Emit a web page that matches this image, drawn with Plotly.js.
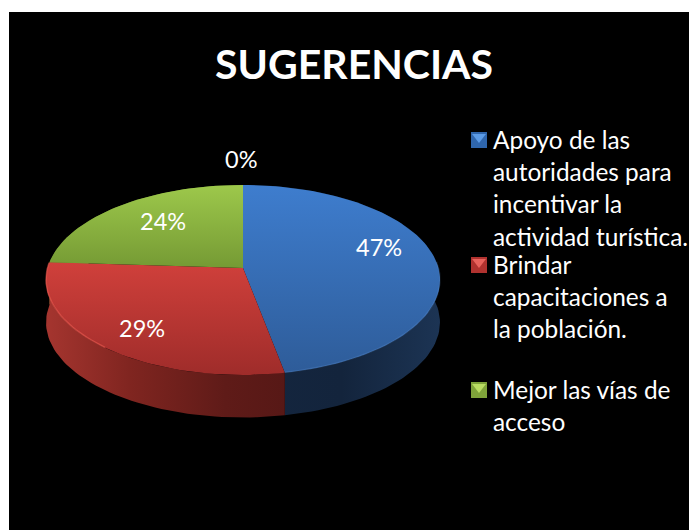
<!DOCTYPE html>
<html><head><meta charset="utf-8">
<script src="https://cdn.plot.ly/plotly-3.0.1.min.js"></script>
<style>html,body{margin:0;padding:0;background:#fff;overflow:hidden}</style>
</head><body><div id="chart" style="width:689px;height:530px"></div>
<script>
// Data
const chartTitle = 'SUGERENCIAS';
const categories = ['Apoyo de las autoridades para incentivar la actividad turística.', 'Brindar capacitaciones a la población.', 'Mejor las vías de acceso', 'Otros'];
const values = [47, 29, 24, 0];
const percentLabels = ['47%', '29%', '24%', '0%'];
const legendLines = [
  ['Apoyo de las', 'autoridades para', 'incentivar la', 'actividad turística.'],
  ['Brindar', 'capacitaciones a', 'la población.'],
  ['Mejor las vías de', 'acceso']
];

// Styles
const FONT = 'Lato, Carlito, Calibri, sans-serif';
const topGrad = [['#2e5c99', '#3e7dce'], ['#9f2c2a', '#d0403b'], ['#759a34', '#9dc84b']];
const sideGrad = [
  [[0, '#14263f'], [0.5, '#13243c'], [1, '#1c3454']],
  [[0, '#a5352f'], [0.35, '#802520'], [0.75, '#5f1b18'], [1, '#571816']],
  [[0, '#5f7d2a'], [1, '#5f7d2a']]
];
const swatch = [['#2f66ad', '#5b9be6'], ['#b0322f', '#e8625c'], ['#7fa33a', '#b9dc62']];

// Perspective pie projection
const CX = 243, CY = 268, RX = 195.4, RY = 93.5, K = 0.126, DEPTH = 42.5;
function project(pct, r, dy) {
  const t = pct / 100 * 2 * Math.PI, u = r * Math.sin(t), v = r * Math.cos(t), d = 1 + K * v;
  return [CX + RX * u / d, CY - RY * v / d + (dy || 0)];
}
function rim(a, b, dy) {
  const pts = [], n = Math.max(2, Math.ceil((b - a) * 2));
  for (let i = 0; i <= n; i++) pts.push(project(a + (b - a) * i / n, 1, dy));
  return pts;
}

const traces = [], annotations = [];
const starts = [];
values.reduce((acc, v, i) => { starts[i] = acc; return acc + v; }, 0);

// Sides first (the back ones end up hidden beneath the top faces)
[2, 0, 1].forEach(i => {
  const a = starts[i], b = a + values[i];
  const front = rim(a, b, 0), back = rim(a, b, DEPTH).reverse();
  const pts = front.concat(back);
  pts.push(front[0]);
  traces.push({
    type: 'scatter', mode: 'lines', x: pts.map(p => p[0]), y: pts.map(p => p[1]),
    line: {width: 0}, fill: 'toself', fillcolor: sideGrad[i][0][1],
    fillgradient: {type: 'horizontal', colorscale: sideGrad[i]},
    hoverinfo: 'skip', showlegend: false
  });
});
// Top faces
[0, 1, 2].forEach(i => {
  const a = starts[i], b = a + values[i];
  const pts = [[CX, CY]].concat(rim(a, b, 0));
  pts.push([CX, CY]);
  traces.push({
    type: 'scatter', mode: 'lines', x: pts.map(p => p[0]), y: pts.map(p => p[1]),
    line: {width: 0}, fill: 'toself', fillcolor: topGrad[i][1],
    fillgradient: {type: 'vertical', colorscale: [[0, topGrad[i][0]], [1, topGrad[i][1]]]},
    name: categories[i], hoverinfo: 'name+text', text: percentLabels[i], showlegend: false
  });
});
// Bevel highlights on the front rim
[[starts[1] + 14, starts[2] - 0.2, 'rgba(235,90,80,0.6)'], [starts[0] + 24, starts[1], 'rgba(110,160,225,0.2)']].forEach(b => {
  const pts = rim(b[0], b[1], 0);
  traces.push({type: 'scatter', mode: 'lines', x: pts.map(p => p[0]), y: pts.map(p => p[1] - 0.5),
    line: {width: 1.5, color: b[2]}, hoverinfo: 'skip', showlegend: false});
});

// Percent labels: anchored radially from each slice's mid-angle
const labelRadius = [0.72, 0.74, 0.72, 1.3];
const labelNudge = [[-3, -15], [2, 4], [10, -1], [-2, -5]];
values.forEach((v, i) => {
  const p = project(starts[i] + v / 2, labelRadius[i], 0);
  annotations.push({x: p[0], y: p[1], xref: 'x', yref: 'y', text: percentLabels[i], showarrow: false,
    xshift: labelNudge[i][0], yshift: -labelNudge[i][1], font: {family: FONT, size: 23.5, color: '#fff'}});
});

// Legend drawn as swatches and text lines
const legendX = 479, textX = 491, lineGap = 32.4;
const legendTop = [140, 265, 390];
legendLines.forEach((lines, i) => {
  traces.push({type: 'scatter', mode: 'markers', x: [legendX], y: [legendTop[i]], hoverinfo: 'skip', showlegend: false,
    marker: {symbol: 'square', size: 16, color: swatch[i][0], line: {width: 0}}});
  traces.push({type: 'scatter', mode: 'markers', x: [legendX], y: [legendTop[i] - 3], hoverinfo: 'skip', showlegend: false,
    marker: {symbol: 'triangle-down', size: 12, color: swatch[i][1], line: {width: 0}}});
  lines.forEach((t, j) => annotations.push({
    x: textX, y: legendTop[i] - 1 + j * lineGap, xref: 'x', yref: 'y', xanchor: 'left', yanchor: 'middle',
    text: t, showarrow: false, font: {family: FONT, size: 24.4, color: '#fff'}
  }));
});

// Title
annotations.push({x: 354, y: 63, xref: 'x', yref: 'y', text: '<b>' + chartTitle + '</b>', showarrow: false,
  font: {family: FONT, size: 41, color: '#fff'}});

const hidden = {visible: false, fixedrange: true, showgrid: false, zeroline: false};
Plotly.newPlot('chart', traces, {
  width: 689, height: 530, paper_bgcolor: '#ffffff', plot_bgcolor: '#000000',
  margin: {l: 9, r: 0, t: 12, b: 0, pad: 0},
  xaxis: Object.assign({range: [9, 689]}, hidden),
  yaxis: Object.assign({range: [530, 12]}, hidden),
  showlegend: false, annotations: annotations
}, {displayModeBar: false, staticPlot: false});
</script></body></html>
